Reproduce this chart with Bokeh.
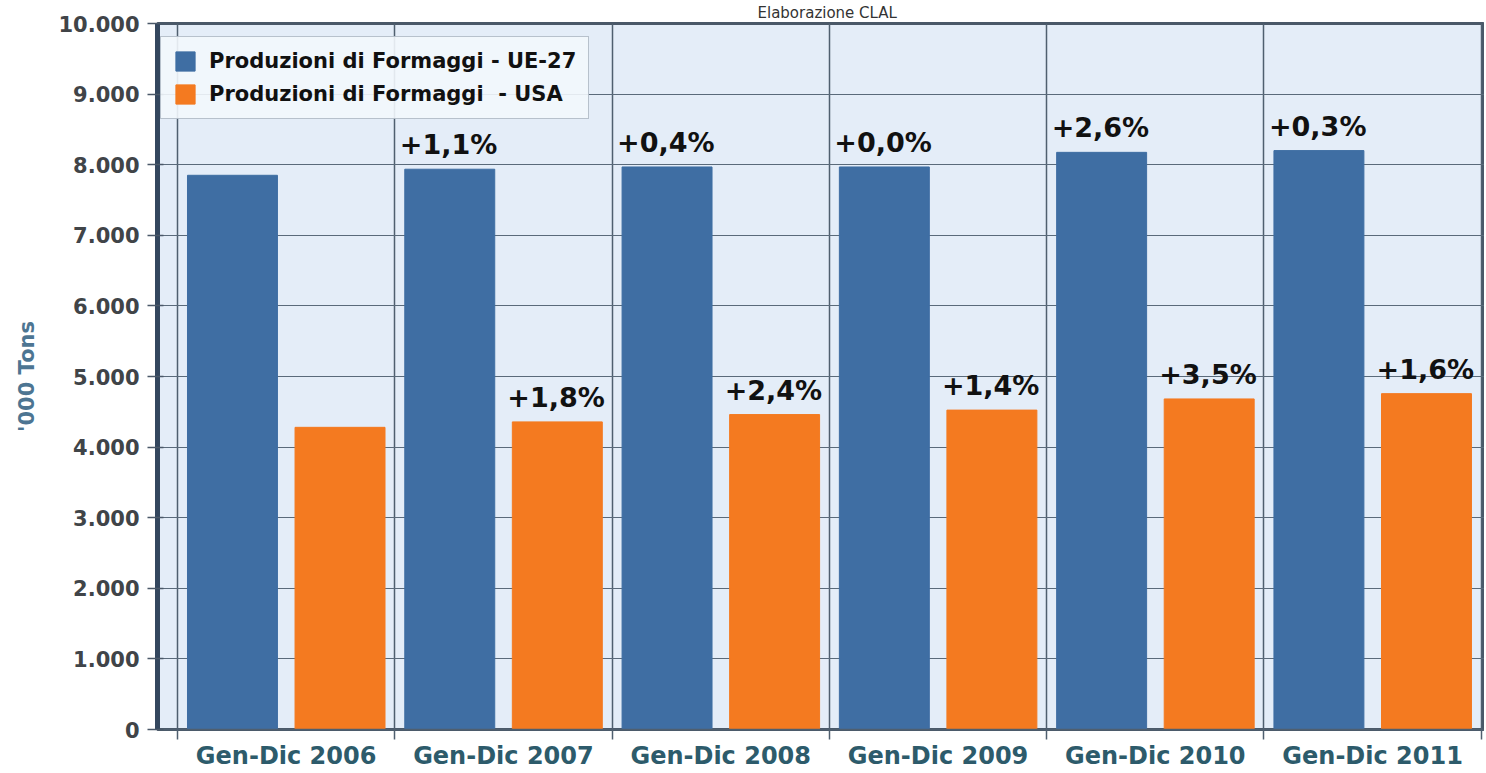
from bokeh.plotting import figure
from bokeh.models import Range1d, FixedTicker, ColumnDataSource, Legend, LegendItem
from bokeh.core.properties import value
from bokeh.embed import file_html
from bokeh.resources import INLINE

# ---- data ----
categories = ["Gen-Dic 2006", "Gen-Dic 2007", "Gen-Dic 2008",
              "Gen-Dic 2009", "Gen-Dic 2010", "Gen-Dic 2011"]
eu_values = [7850, 7936, 7968, 7968, 8175, 8200]
usa_values = [4280, 4357, 4461, 4524, 4682, 4757]
eu_changes = ["", "+1,1%", "+0,4%", "+0,0%", "+2,6%", "+0,3%"]
usa_changes = ["", "+1,8%", "+2,4%", "+1,4%", "+3,5%", "+1,6%"]
series_names = ["Produzioni di Formaggi - UE-27", "Produzioni di Formaggi  - USA"]
y_ticks = [0, 1000, 2000, 3000, 4000, 5000, 6000, 7000, 8000, 9000, 10000]
y_tick_labels = ["0", "1.000", "2.000", "3.000", "4.000", "5.000",
                 "6.000", "7.000", "8.000", "9.000", "10.000"]
y_axis_label = "'000 Tons"
title_text = "Elaborazione CLAL"

# ---- layout / style ----
FONT = "DejaVu Sans"
BLUE = "#3f6ea3"
ORANGE = "#f47a20"
BAR_W = 0.414
EU_OFF = 0.253
US_OFF = 0.748

n = len(categories)
idx = list(range(n))

eu_src = ColumnDataSource(dict(
    x=[i + EU_OFF for i in idx],
    xl=[i + EU_OFF - BAR_W / 2 for i in idx],
    top=eu_values, lab=eu_changes))
us_src = ColumnDataSource(dict(
    x=[i + US_OFF for i in idx],
    xl=[i + US_OFF - BAR_W / 2 for i in idx],
    top=usa_values, lab=usa_changes))

p = figure(width=1484, height=772, output_backend="svg", toolbar_location=None,
           x_range=Range1d(-0.092, 6.015), y_range=Range1d(0, 10000),
           min_border_left=157, min_border_top=22, min_border_right=0,
           min_border_bottom=0, title=title_text)

p.title.align = "left"
p.title.offset = 600
p.title.standoff = 3
p.title.text_font = FONT
p.title.text_font_style = "normal"
p.title.text_font_size = "15px"
p.title.text_color = "#333333"

p.border_fill_color = "#ffffff"
p.background_fill_color = "#e4edf8"
p.outline_line_color = "#4a5868"
p.outline_line_width = 3

# grids
p.xgrid.ticker = FixedTicker(ticks=list(range(n + 1)))
p.xgrid.grid_line_color = "#4f5f6f"
p.xgrid.grid_line_width = 1.5
p.ygrid.ticker = FixedTicker(ticks=y_ticks)
p.ygrid.grid_line_color = "#5a6a7a"
p.ygrid.grid_line_width = 1

# bars
r_eu = p.vbar(x="x", top="top", bottom=0, width=BAR_W, source=eu_src,
              fill_color=BLUE, line_color=BLUE)
r_us = p.vbar(x="x", top="top", bottom=0, width=BAR_W, source=us_src,
              fill_color=ORANGE, line_color=ORANGE)

# change labels
for src in (eu_src, us_src):
    p.text(x="xl", y="top", text="lab", source=src, x_offset=-5, y_offset=-9,
           text_align="left", text_baseline="bottom",
           text_font=value(FONT), text_font_style="bold",
           text_font_size="27px", text_color="#111111")

# x axis
xa = p.xaxis[0]
xa.ticker = FixedTicker(ticks=[i + 0.5 for i in idx], minor_ticks=list(range(n + 1)))
xa.major_label_overrides = {i + 0.5: c for i, c in enumerate(categories)}
xa.major_tick_line_color = None
xa.major_tick_out = 0
xa.major_tick_in = 0
xa.minor_tick_out = 10
xa.minor_tick_in = 0
xa.minor_tick_line_color = "#4f5f6f"
xa.minor_tick_line_width = 1.5
xa.axis_line_color = "#4f5f6f"
xa.axis_line_width = 1.5
xa.major_label_standoff = 2
xa.major_label_text_font = FONT
xa.major_label_text_font_style = "bold"
xa.major_label_text_font_size = "24px"
xa.major_label_text_color = "#2d5b6b"

# y axis
ya = p.yaxis[0]
ya.ticker = FixedTicker(ticks=y_ticks)
ya.major_label_overrides = {t: l for t, l in zip(y_ticks, y_tick_labels)}
ya.minor_tick_line_color = None
ya.major_tick_out = 10
ya.major_tick_in = 6
ya.major_tick_line_color = "#4a5868"
ya.major_tick_line_width = 1.5
ya.axis_line_color = "#34475e"
ya.axis_line_width = 5
ya.major_label_standoff = 8
ya.major_label_text_font = FONT
ya.major_label_text_font_style = "bold"
ya.major_label_text_font_size = "21px"
ya.major_label_text_color = "#404448"
ya.axis_label = y_axis_label
ya.axis_label_standoff = 16
ya.axis_label_text_font = FONT
ya.axis_label_text_font_style = "bold"
ya.axis_label_text_font_size = "21px"
ya.axis_label_text_color = "#4d7592"

# legend
legend = Legend(items=[LegendItem(label=series_names[0], renderers=[r_eu]),
                       LegendItem(label=series_names[1], renderers=[r_us])],
                orientation="vertical")
legend.glyph_width = 24
legend.glyph_height = 24
legend.label_height = 24
legend.spacing = 9
legend.padding = 12
legend.margin = 0
legend.label_standoff = 12
legend.label_text_font = FONT
legend.label_text_font_style = "bold"
legend.label_text_font_size = "21px"
legend.label_text_color = "#111111"
legend.background_fill_color = "#f2f7fc"
legend.background_fill_alpha = 0.9
legend.border_line_color = "#7d8c9b"
legend.border_line_width = 1.5
p.add_layout(legend, "center")
legend.location = (3, 610)

open("out.html", "w").write(file_html(p, INLINE))
